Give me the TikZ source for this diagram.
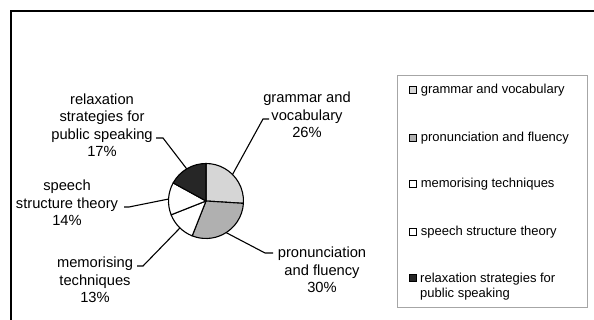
\documentclass[tikz,border=0pt]{standalone}
\usepackage{fontspec}
\setmainfont{Liberation Sans}
\usepackage{tikz}
\usetikzlibrary{positioning,calc}
\tikzstyle{slice} = [draw=black, line width=1.1pt, line join=round]
\tikzstyle{leader} = [draw=black, line width=1.1pt]
\tikzstyle{pielabel} = [align=center, inner sep=0pt, font=\fontsize{14.7}{17.5}\selectfont]
\tikzstyle{legmark} = [rectangle, draw=black, line width=0.8pt, minimum size=6.5pt, inner sep=0pt]
\tikzstyle{legtext} = [align=left, inner sep=0pt, font=\fontsize{13}{15}\selectfont]

\begin{document}
\begin{tikzpicture}[x=1pt,y=1pt]
	\useasboundingbox (0,0) rectangle (594,320);
	% outer chart frame (right and bottom run off the page)
	\draw[line width=1.6pt] (11,-10) -- (11,309) -- (610,309);
	
	% pie
	\coordinate (c) at (206,119);
	\filldraw[slice, fill=gray!32] (c) -- ++(90:37.5) arc[start angle=90, end angle=-3.6, radius=37.5] -- cycle;
	\filldraw[slice, fill=gray!62] (c) -- ++(-3.6:37.5) arc[start angle=-3.6, end angle=-111.6, radius=37.5] -- cycle;
	\filldraw[slice, fill=white] (c) -- ++(-111.6:37.5) arc[start angle=-111.6, end angle=-158.4, radius=37.5] -- cycle;
	\filldraw[slice, fill=white] (c) -- ++(-158.4:37.5) arc[start angle=-158.4, end angle=-208.8, radius=37.5] -- cycle;
	\filldraw[slice, fill=black!85] (c) -- ++(151.2:37.5) arc[start angle=151.2, end angle=90, radius=37.5] -- cycle;
	
	% slice labels
	\node[pielabel] (lblGV) at (307,205) {grammar and\\vocabulary\\26\%};
	\node[pielabel] (lblPF) at (322,50) {pronunciation\\and fluency\\30\%};
	\node[pielabel] (lblMT) at (95,40) {memorising\\techniques\\13\%};
	\node[pielabel] (lblSS) at (67,117) {speech\\structure theory\\14\%};
	\node[pielabel] (lblRS) at (102,195) {relaxation\\strategies for\\public speaking\\17\%};
	
	% leader lines
	\coordinate (endGV) at (269,201);
	\coordinate (endPF) at (273,67);
	\coordinate (endMT) at (137,54);
	\coordinate (endSS) at (124,113);
	\coordinate (endRS) at (156,182);
	\draw[leader] ($(c)+(45:37.5)$) -- (263,201) -- (endGV);
	\draw[leader] ($(c)+(-57.5:37.5)$) -- (265,67) -- (endPF);
	\draw[leader] ($(c)+(-134:37.5)$) -- (143,54) -- (endMT);
	\draw[leader] ($(c)+(177:37.5)$) -- (129,113) -- (endSS);
	\draw[leader] ($(c)+(121:37.5)$) -- (163,182) -- (endRS);
	
	% legend
	\draw[gray!70, line width=0.6pt] (397,245) rectangle (587,13);
	\node[legmark, fill=gray!32] (m1) at (413,230) {};
	\node[legmark, fill=gray!62] (m2) at (413,182) {};
	\node[legmark, fill=white] (m3) at (413,136) {};
	\node[legmark, fill=white] (m4) at (413,88) {};
	\node[legmark, fill=black!85] (m5) at (413,42) {};
	\node[legtext, right=4pt of m1] (t1) {grammar and vocabulary};
	\node[legtext, right=4pt of m2] (t2) {pronunciation and fluency};
	\node[legtext, right=4pt of m3] (t3) {memorising techniques};
	\node[legtext, right=4pt of m4] (t4) {speech structure theory};
	\node[legtext, anchor=north west] (t5) at (420,47) {relaxation strategies for\\public speaking};
\end{tikzpicture}
\end{document}
